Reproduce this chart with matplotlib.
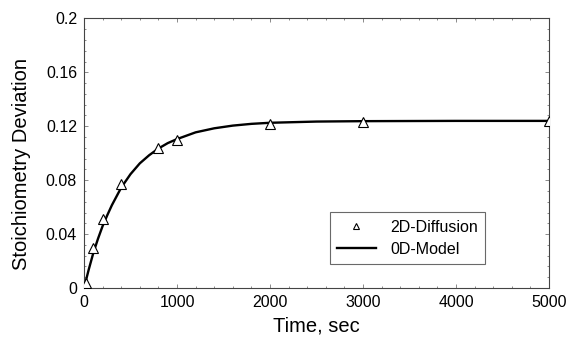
import matplotlib
matplotlib.use("Agg")
import matplotlib.pyplot as plt
import numpy as np
from matplotlib.ticker import AutoMinorLocator

plt.rcParams['font.family'] = ['Liberation Sans', 'DejaVu Sans']

# 2D-Diffusion points
diff_t = [25, 100, 200, 400, 800, 1000, 2000, 3000, 5000]
diff_y = [0.0035, 0.030, 0.051, 0.077, 0.104, 0.110, 0.122, 0.123, 0.124]

# 0D-Model curve
model_t = [0, 50, 100, 150, 200, 250, 300, 400, 500, 600, 700, 800, 900, 1000,
           1200, 1400, 1600, 1800, 2000, 2500, 3000, 4000, 5000]
model_y = [0.0, 0.0135, 0.026, 0.0365, 0.046, 0.054, 0.0615, 0.0745, 0.0845, 0.0925,
           0.0985, 0.1035, 0.1075, 0.1105, 0.1155, 0.1185, 0.1205, 0.1218, 0.1226,
           0.1235, 0.1238, 0.124, 0.124]

xticks = [0, 1000, 2000, 3000, 4000, 5000]
yticks = [0, 0.04, 0.08, 0.12, 0.16, 0.2]
yticklabels = ['0', '0.04', '0.08', '0.12', '0.16', '0.2']

fig = plt.figure(figsize=(5.7, 3.42), dpi=100)
ax = fig.add_axes([0.1474, 0.1579, 0.8158, 0.7881])

ax.plot(diff_t, diff_y, linestyle='none', marker='^', markersize=6.5,
        markerfacecolor='white', markeredgecolor='black', markeredgewidth=0.8,
        label='2D-Diffusion', zorder=3)
ax.plot(model_t, model_y, color='black', linewidth=1.7, label='0D-Model', zorder=2)

ax.set_xlim(0, 5000)
ax.set_ylim(0, 0.2)
ax.set_xticks(xticks)
ax.set_xticklabels([str(v) for v in xticks])
ax.set_yticks(yticks)
ax.set_yticklabels(yticklabels)
ax.xaxis.set_minor_locator(AutoMinorLocator(5))
ax.yaxis.set_minor_locator(AutoMinorLocator(5))
ax.tick_params(which='both', direction='in', top=True, right=True, labelsize=11.5,
               color='#777777', width=0.6)
ax.tick_params(which='major', length=3, pad=5)
ax.tick_params(which='minor', length=1.5)
for s in ax.spines.values():
    s.set_linewidth(0.8)
    s.set_color('#444444')

ax.set_xlabel('Time, sec', fontsize=14.5, labelpad=5)
ax.set_ylabel('Stoichiometry Deviation', fontsize=14.5)
ax.yaxis.set_label_coords(-0.115, 0.46)

leg = ax.legend(loc='lower left', bbox_to_anchor=(330/570, 1 - 264/342),
                bbox_transform=fig.transFigure, fontsize=11.5, frameon=True,
                fancybox=False, edgecolor='#444444', handlelength=2.4,
                borderpad=0.45, labelspacing=0.45, handletextpad=0.9,
                markerscale=0.75, borderaxespad=0)
leg.get_frame().set_linewidth(0.8)

fig.savefig('out.png', dpi=100)
